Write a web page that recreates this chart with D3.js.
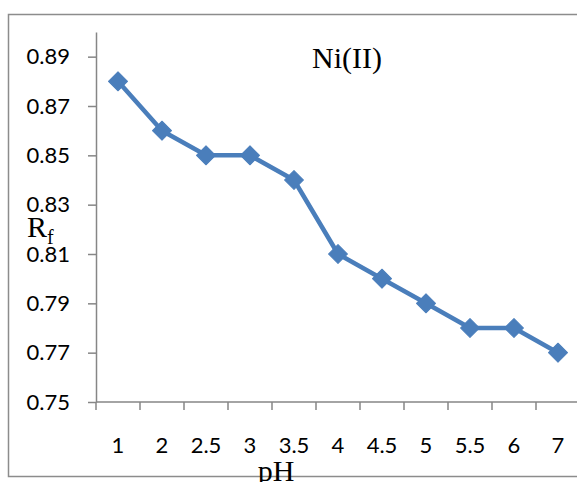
<!DOCTYPE html>
<html>
<head>
<meta charset="utf-8">
<script src="https://cdn.jsdelivr.net/npm/d3@7"></script>
<style>
  html, body { margin: 0; padding: 0; background: #fff; }
  svg { display: block; }
</style>
</head>
<body>
<svg id="chart" width="577" height="482"></svg>
<script>
// pH values (categories) and measured Rf of Ni(II)
const phLabels = ["1", "2", "2.5", "3", "3.5", "4", "4.5", "5", "5.5", "6", "7"];
const rfValues = [0.88, 0.86, 0.85, 0.85, 0.84, 0.81, 0.80, 0.79, 0.78, 0.78, 0.77];
const yTicks = [0.75, 0.77, 0.79, 0.81, 0.83, 0.85, 0.87, 0.89];
const yDomain = [0.75, 0.90];

const svg = d3.select("#chart");
const W = 577, H = 482;
const plot = { left: 96, right: 580, top: 32, bottom: 402 };
const blue = "#4a7ebb";
const axisGrey = "#868686";

// outer chart frame
svg.append("rect")
  .attr("x", 8.5).attr("y", 14.5)
  .attr("width", 580).attr("height", 462)
  .attr("fill", "none")
  .attr("stroke", "#8c8c8c")
  .attr("stroke-width", 1.5);

const x = d3.scaleBand().domain(phLabels).range([plot.left, plot.right]).padding(0);
const y = d3.scaleLinear().domain(yDomain).range([plot.bottom, plot.top]);

// y axis
const yAxis = svg.append("g")
  .attr("transform", `translate(${plot.left},0)`)
  .call(d3.axisLeft(y).tickValues(yTicks).tickFormat(d3.format(".2f")).tickSize(8).tickPadding(18).tickSizeOuter(0));
yAxis.select(".domain").attr("stroke", axisGrey).attr("stroke-width", 1.5);
yAxis.selectAll(".tick line").attr("stroke", axisGrey).attr("stroke-width", 1.5);
yAxis.selectAll(".tick text")
  .attr("font-family", "Lato, 'Open Sans', sans-serif")
  .attr("font-size", 22)
  .attr("fill", "#000");

// x axis: ticks at category boundaries, labels centred in each band
const xAxisG = svg.append("g").attr("transform", `translate(0,${plot.bottom})`);
xAxisG.append("line")
  .attr("x1", plot.left).attr("x2", plot.right)
  .attr("stroke", axisGrey).attr("stroke-width", 1.5);
const bounds = phLabels.map(d => x(d)).concat([x(phLabels[phLabels.length - 1]) + x.bandwidth()]);
xAxisG.selectAll("line.tk").data(bounds).join("line")
  .attr("class", "tk")
  .attr("x1", d => d).attr("x2", d => d)
  .attr("y1", 0).attr("y2", 8)
  .attr("stroke", axisGrey).attr("stroke-width", 1.5);
xAxisG.selectAll("text").data(phLabels).join("text")
  .attr("x", d => x(d) + x.bandwidth() / 2)
  .attr("y", 43)
  .attr("dy", "0.35em")
  .attr("text-anchor", "middle")
  .attr("font-family", "Lato, 'Open Sans', sans-serif")
  .attr("font-size", 22)
  .attr("fill", "#000")
  .text(d => d);

// data line
const cx = (d, i) => x(phLabels[i]) + x.bandwidth() / 2;
const line = d3.line().x((d, i) => cx(d, i)).y(d => y(d));
svg.append("path")
  .datum(rfValues)
  .attr("d", line)
  .attr("fill", "none")
  .attr("stroke", blue)
  .attr("stroke-width", 4.5)
  .attr("stroke-linejoin", "round");

// diamond markers
const diamond = d3.symbol().type(d3.symbolSquare).size(180);
svg.selectAll("path.marker").data(rfValues).join("path")
  .attr("class", "marker")
  .attr("d", diamond)
  .attr("transform", (d, i) => `translate(${cx(d, i)},${y(d)}) rotate(45)`)
  .attr("fill", blue)
  .attr("stroke", blue)
  .attr("stroke-width", 1)
  .attr("stroke-linejoin", "round");

// series name
svg.append("text")
  .attr("x", 347).attr("y", 68)
  .attr("text-anchor", "middle")
  .attr("font-family", "'Liberation Serif', 'Times New Roman', serif")
  .attr("font-size", 30)
  .attr("fill", "#000")
  .text("Ni(II)");

// axis titles
const rf = svg.append("text")
  .attr("x", 27).attr("y", 237)
  .attr("font-family", "'Liberation Serif', 'Times New Roman', serif")
  .attr("font-size", 30)
  .attr("fill", "#000");
rf.append("tspan").text("R");
rf.append("tspan").attr("dy", 7).attr("font-size", 20).text("f");

svg.append("text")
  .attr("x", 276).attr("y", 481)
  .attr("text-anchor", "middle")
  .attr("font-family", "'Liberation Serif', 'Times New Roman', serif")
  .attr("font-size", 30)
  .attr("fill", "#000")
  .text("pH");
</script>
</body>
</html>
